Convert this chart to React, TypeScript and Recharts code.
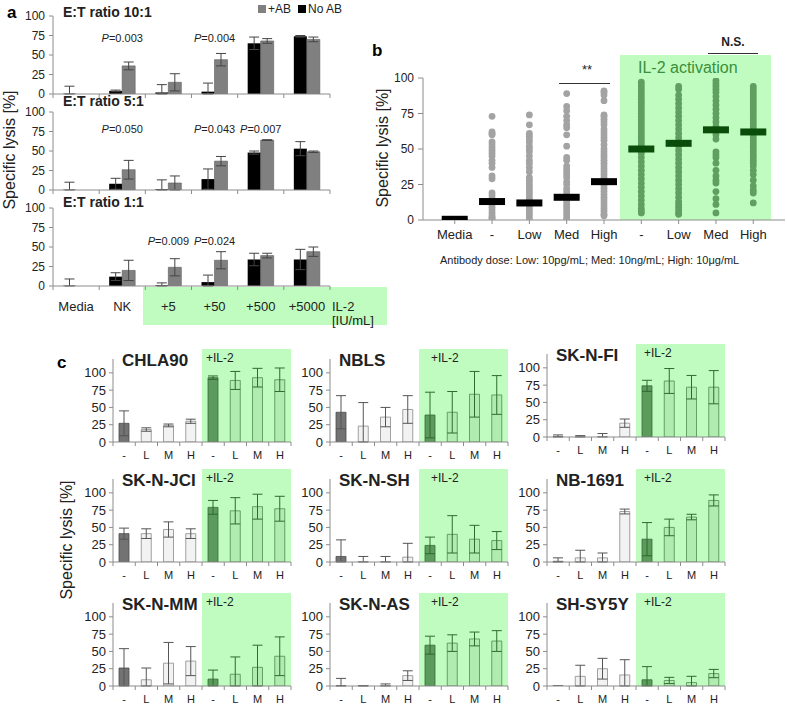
import React from 'react';
import { BarChart, Bar, XAxis, YAxis, ErrorBar, Cell, ScatterChart, Scatter } from 'recharts';

const FONT = '"Liberation Sans", Arial, Helvetica, sans-serif';
const AXIS = '#8c8c8c';
const TXT = '#222';
const GREEN_BG = '#c0fcc0';

// ---------- panel a ----------
const A_GROUPS = ['Media', 'NK', '+5', '+50', '+500', '+5000'];

const A10_NOAB = [0, 4, 2, 3, 65, 74];
const A10_NOAB_ERR = [10, 1, 10, 11, 8, 1];
const A10_AB = [0, 36, 15, 44, 68, 70];
const A10_AB_ERR = [0, 5, 11, 8, 3, 3];
const A10_P = ['', 'P=0.003', '', 'P=0.004', '', ''];

const A5_NOAB = [0, 8, 1, 14, 48, 53];
const A5_NOAB_ERR = [10, 7, 12, 13, 2, 9];
const A5_AB = [0, 26, 9, 37, 64, 49];
const A5_AB_ERR = [0, 12, 9, 6, 0.5, 1];
const A5_P = ['', 'P=0.050', '', 'P=0.043', 'P=0.007', ''];

const A1_NOAB = [0, 12, 1, 5, 34, 34];
const A1_NOAB_ERR = [9, 5, 3, 9, 8, 13];
const A1_AB = [0, 20, 24, 33, 39, 44];
const A1_AB_ERR = [0, 13, 11, 11, 3, 6];
const A1_P = ['', '', 'P=0.009', 'P=0.024', '', ''];

// ---------- panel b ----------
const B_CATS = ['Media', '-', 'Low', 'Med', 'High', '-', 'Low', 'Med', 'High'];
const B_MEANS = [0.5, 13, 12, 16, 27, 50, 54, 63.5, 62];
const B_DOTS_NK = [73, 62, 61, 60, 55, 53, 51, 49, 47, 45, 42, 40, 37, 31, 29, 19, 17, 15, 13, 11, 9, 7, 5, 3, 2, 1, 0];
const B_DOTS_LOW = [74, 67, 61, 59, 57, 55, 52, 50, 48, 45, 42, 40, 37, 34, 30, 28, 26, 24, 22, 20, 18, 16, 14, 12, 10, 8, 6, 4, 2, 0];
const B_DOTS_MED = [89, 80, 77, 73, 70, 67, 65, 60, 52, 44, 42, 38, 36, 34, 32, 30, 27, 25, 22, 20, 18, 15, 13, 11, 9, 7, 5, 3, 1, 0];
const B_DOTS_HIGH = [91, 90, 88, 84, 74, 73, 71, 69, 67, 64, 62, 60, 58, 56, 53, 50, 48, 46, 44, 42, 40, 38, 36, 34, 32, 30, 28, 26, 24, 22, 20, 18, 16, 14, 12, 10, 8, 6, 4, 3];
const B_DOTS_IL = [97, 95, 93, 91, 89, 87, 85, 83, 81, 79, 77, 75, 73, 71, 69, 67, 65, 63, 61, 59, 57, 55, 53, 51, 49, 47, 44, 41, 38, 35, 32, 29, 26, 23, 20, 17, 14, 11, 8, 6, 5];
const B_DOTS_IL_LOW = [94, 92, 88, 85, 82, 79, 76, 73, 70, 67, 64, 61, 58, 55, 52, 49, 46, 43, 40, 37, 34, 31, 28, 25, 22, 19, 16, 13, 11, 9, 7, 5, 4];
const B_DOTS_IL_MED = [98, 96, 94, 92, 90, 87, 84, 81, 78, 75, 72, 69, 66, 63, 60, 57, 48, 46, 44, 40, 35, 31, 28, 26, 20, 15, 11, 5];
const B_DOTS_IL_HIGH = [94, 92, 90, 88, 86, 84, 82, 80, 78, 76, 74, 72, 70, 68, 66, 64, 62, 60, 58, 56, 54, 52, 50, 48, 46, 44, 42, 40, 38, 35, 32, 28, 24, 21, 19, 12];

// ---------- panel c ----------
const C_LABELS = ['-', 'L', 'M', 'H', '-', 'L', 'M', 'H'];
const CHLA90_VAL = [27, 18, 24, 30, 93, 89, 93, 90];
const CHLA90_ERR = [18, 2.5, 2, 3, 2.5, 13, 13.5, 17];
const NBLS_VAL = [43, 23, 36, 47, 39, 43, 69, 68];
const NBLS_ERR = [24, 34, 14, 20, 33, 30, 33, 28];
const SKNFI_VAL = [0, 0, 0, 20, 74, 81, 72, 72];
const SKNFI_ERR = [3, 2, 5, 6, 8, 18, 17, 24];
const SKNJCI_VAL = [41, 41, 47, 41, 79, 74, 80, 77];
const SKNJCI_ERR = [8, 7, 11, 7, 10, 19, 18, 18];
const SKNSH_VAL = [8, 0, 0, 7, 24, 40, 33, 31];
const SKNSH_ERR = [24, 8, 8, 20, 12, 27, 20, 13];
const NB1691_VAL = [1, 6, 6, 73, 33, 50, 65, 89];
const NB1691_ERR = [5, 11, 7, 3.5, 24, 12, 4, 8];
const SKNMM_VAL = [26, 9, 33, 36, 10, 17, 27, 43];
const SKNMM_ERR = [28, 17, 30, 21, 13, 25, 32, 28];
const SKNAS_VAL = [0, 0, 0, 15, 59, 62, 68, 65];
const SKNAS_ERR = [11, 0.5, 3, 7, 13, 12, 10, 15];
const SHSY5Y_VAL = [0, 14, 25, 16, 9, 8, 5, 18];
const SHSY5Y_ERR = [0, 16, 15, 22, 19, 4.5, 9, 6];

const C_LINES = [
  { name: 'CHLA90', val: CHLA90_VAL, err: CHLA90_ERR },
  { name: 'NBLS', val: NBLS_VAL, err: NBLS_ERR },
  { name: 'SK-N-FI', val: SKNFI_VAL, err: SKNFI_ERR },
  { name: 'SK-N-JCI', val: SKNJCI_VAL, err: SKNJCI_ERR },
  { name: 'SK-N-SH', val: SKNSH_VAL, err: SKNSH_ERR },
  { name: 'NB-1691', val: NB1691_VAL, err: NB1691_ERR },
  { name: 'SK-N-MM', val: SKNMM_VAL, err: SKNMM_ERR },
  { name: 'SK-N-AS', val: SKNAS_VAL, err: SKNAS_ERR },
  { name: 'SH-SY5Y', val: SHSY5Y_VAL, err: SHSY5Y_ERR },
];

// layout of the 3x3 grid
const C_X = [113, 330, 547];
const C_ZERO = [[442, 442, 437], [562, 562, 562], [686, 686, 686]];
const C_IL_DX = [4, 12, 8];
const C_W = 178;

// error bar that stops at the axis (like the clipped Excel bars)
const errPair = (v: number | null, e: number | null) => (v == null || !e ? null : [Math.min(e, v), e]);
// zero-height bars still need a rectangle so their error bar is drawn
const tinyForZero = (v: any) => (v === 0 ? 0.3 : 0);

const Txt = ({ x, y, size = 12, bold = false, color = TXT, anchor = 'start', children }: any) => (
  <div
    style={{
      position: 'absolute', left: x, top: y - size / 2, fontSize: size, lineHeight: `${size}px`,
      fontWeight: bold ? 700 : 400, color, whiteSpace: 'nowrap',
      transform: anchor === 'middle' ? 'translateX(-50%)' : anchor === 'end' ? 'translateX(-100%)' : undefined,
    }}
  >
    {children}
  </div>
);

const VLabel = ({ x, y, size = 16 }: any) => (
  <div
    style={{
      position: 'absolute', left: x, top: y, fontSize: size, color: TXT, whiteSpace: 'nowrap',
      transform: 'translate(-50%, -50%) rotate(-90deg)',
    }}
  >
    Specific lysis [%]
  </div>
);

// tick marks on category boundaries, label in the middle of the band
const BandTick = (props: any) => {
  const { x = 0, y = 0, index = 0, band, count, labels, labelDy = 16, fontSize = 12 } = props;
  return (
    <g>
      <line x1={x - band / 2} x2={x - band / 2} y1={y} y2={y + 4} stroke={AXIS} />
      {index === count - 1 ? <line x1={x + band / 2} x2={x + band / 2} y1={y} y2={y + 4} stroke={AXIS} /> : null}
      {labels ? (
        <text x={x} y={y + labelDy} textAnchor="middle" fontSize={fontSize} fill={TXT} fontFamily={FONT}>
          {labels[index]}
        </text>
      ) : null}
    </g>
  );
};

const PText = ({ text }: { text: string }) => (
  <>
    <i>P</i>
    {text.slice(1)}
  </>
);

// ---------- panel a chart ----------
const A_LEFT = 53;
const A_W = 277;
const A_H = 78;

const RatioChart = ({ zero, noAb, noAbErr, ab, abErr, title, titleY, pvals, pY, labels }: any) => {
  const data = A_GROUPS.map((g, i) => ({
    group: g,
    noAb: noAb[i],
    noAbErr: errPair(noAb[i], noAbErr[i]),
    ab: ab[i],
    abErr: errPair(ab[i], abErr[i]),
  }));
  const yw = 30;
  const mt = 9;
  const xh = labels ? 34 : 6;
  const band = A_W / A_GROUPS.length;
  return (
    <>
      <Txt x={63} y={titleY} size={14} bold>{title}</Txt>
      {pvals.map((p: string, i: number) =>
        p ? (
          <Txt key={i} x={A_LEFT + (i + 0.5) * band} y={pY} size={11} anchor="middle"><PText text={p} /></Txt>
        ) : null,
      )}
      <div style={{ position: 'absolute', left: A_LEFT - yw, top: zero - A_H - mt }}>
        <BarChart
          width={yw + A_W + 2}
          height={mt + A_H + xh}
          data={data}
          margin={{ top: mt, right: 2, bottom: 0, left: 0 }}
          barGap={0}
        >
          <XAxis
            dataKey="group"
            interval={0}
            tickSize={0}
            tickMargin={0}
            tickLine={false}
            height={xh}
            axisLine={{ stroke: AXIS }}
            tick={<BandTick band={band} count={A_GROUPS.length} labels={labels} labelDy={25} fontSize={13} />}
          />
          <YAxis
            domain={[0, 100]}
            ticks={[0, 25, 50, 75, 100]}
            interval={0}
            allowDataOverflow
            width={yw}
            tickSize={4}
            tickMargin={4}
            axisLine={{ stroke: AXIS }}
            tickLine={{ stroke: AXIS }}
            tick={{ fontSize: 12, fill: TXT, fontFamily: FONT }}
          />
          <Bar dataKey="noAb" fill="#000" barSize={13} minPointSize={tinyForZero} isAnimationActive={false}>
            <ErrorBar dataKey="noAbErr" width={5} stroke="#444" strokeWidth={1} />
          </Bar>
          <Bar dataKey="ab" fill="#808080" stroke="#5a5a5a" strokeWidth={0.6} barSize={13} isAnimationActive={false}>
            <ErrorBar dataKey="abErr" width={5} stroke="#444" strokeWidth={1} />
          </Bar>
        </BarChart>
      </div>
    </>
  );
};

// ---------- panel c chart ----------
const CellLineChart = ({ name, val, err, x0, zero, ilDx }: any) => {
  const data = C_LABELS.map((l, i) => ({
    slot: 's' + i,
    base: i < 4 ? val[i] : null,
    baseErr: i < 4 ? errPair(val[i], err[i]) : null,
    il: i >= 4 ? val[i] : null,
    ilErr: i >= 4 ? errPair(val[i], err[i]) : null,
  }));
  const plotH = 83;
  const yw = 32;
  const mt = 4;
  const xh = 24;
  const band = C_W / C_LABELS.length;
  return (
    <>
      <div style={{ position: 'absolute', left: x0 + C_W / 2, top: zero - 93, width: C_W / 2, height: 93, background: GREEN_BG }} />
      <Txt x={x0 + 9} y={zero - 82} size={17} bold>{name}</Txt>
      <Txt x={x0 + C_W / 2 + ilDx} y={zero - 84} size={12}>+IL-2</Txt>
      <div style={{ position: 'absolute', left: x0 - yw, top: zero - plotH - mt }}>
        <BarChart
          width={yw + C_W + 2}
          height={mt + plotH + xh}
          data={data}
          margin={{ top: mt, right: 2, bottom: 0, left: 0 }}
          barGap={0}
        >
          <XAxis
            dataKey="slot"
            interval={0}
            tickSize={0}
            tickMargin={0}
            tickLine={false}
            height={xh}
            axisLine={{ stroke: AXIS }}
            tick={<BandTick band={band} count={C_LABELS.length} labels={C_LABELS} labelDy={17} fontSize={11} />}
          />
          <YAxis
            domain={[0, 120]}
            ticks={[0, 25, 50, 75, 100]}
            interval={0}
            allowDataOverflow
            width={yw}
            tickSize={4}
            tickMargin={3}
            axisLine={{ stroke: AXIS }}
            tickLine={{ stroke: AXIS }}
            tick={{ fontSize: 13, fill: TXT, fontFamily: FONT }}
          />
          <Bar dataKey="base" stackId="s" barSize={10} minPointSize={tinyForZero} isAnimationActive={false}>
            {data.map((d, i) => (
              <Cell key={i} fill={i === 0 ? '#737373' : '#f2f2f2'} stroke={i === 0 ? '#4d4d4d' : '#8a8a8a'} strokeWidth={0.8} />
            ))}
            <ErrorBar dataKey="baseErr" width={5} stroke="#555" strokeWidth={1} />
          </Bar>
          <Bar dataKey="il" stackId="s" barSize={10} isAnimationActive={false}>
            {data.map((d, i) => (
              <Cell key={i} fill={i === 4 ? '#5b9b5b' : '#b0ecb0'} stroke={i === 4 ? '#3b6b3b' : '#4f8a4f'} strokeWidth={0.8} />
            ))}
            <ErrorBar dataKey="ilErr" width={5} stroke="#2f6a2f" strokeWidth={1} />
          </Bar>
        </BarChart>
      </div>
    </>
  );
};

// ---------- panel b chart ----------
const B_GRAY_COLS = [B_DOTS_NK, B_DOTS_LOW, B_DOTS_MED, B_DOTS_HIGH];
const B_GREEN_COLS = [B_DOTS_IL, B_DOTS_IL_LOW, B_DOTS_IL_MED, B_DOTS_IL_HIGH];

const DotPlot = () => {
  const grayDots = B_GRAY_COLS.flatMap((col, k) => col.map((v) => ({ x: k + 1, y: v })));
  const greenDots = B_GREEN_COLS.flatMap((col, k) => col.map((v) => ({ x: k + 5, y: v })));
  const meansNo = B_MEANS.slice(0, 5).map((v, i) => ({ x: i, y: v }));
  const meansIl = B_MEANS.slice(5).map((v, i) => ({ x: i + 5, y: v }));
  const dot = (color: string) => (p: any) => <circle cx={p.cx} cy={p.cy} r={3.4} fill={color} />;
  const mean = (color: string) => (p: any) => <rect x={p.cx - 13} y={p.cy - 3.5} width={26} height={7} fill={color} />;
  return (
    <div style={{ position: 'absolute', left: 383, top: 68 }}>
      <ScatterChart width={404} height={182} margin={{ top: 10, right: 2, bottom: 0, left: 0 }}>
        <XAxis
          type="number"
          dataKey="x"
          domain={[-0.85, 8.85]}
          ticks={B_CATS.map((c, i) => i)}
          interval={0}
          allowDataOverflow
          tickFormatter={(v: number) => B_CATS[v]}
          tickSize={4}
          tickMargin={6}
          height={30}
          axisLine={{ stroke: AXIS }}
          tickLine={{ stroke: AXIS }}
          tick={{ fontSize: 13, fill: TXT, fontFamily: FONT }}
        />
        <YAxis
          type="number"
          dataKey="y"
          domain={[0, 100]}
          ticks={[0, 25, 50, 75, 100]}
          interval={0}
          allowDataOverflow
          width={40}
          tickSize={5}
          tickMargin={4}
          axisLine={{ stroke: AXIS }}
          tickLine={{ stroke: AXIS }}
          tick={{ fontSize: 12, fill: TXT, fontFamily: FONT }}
        />
        <Scatter data={grayDots} shape={dot('#a3a3a3')} isAnimationActive={false} />
        <Scatter data={greenDots} shape={dot('#5f9f5f')} isAnimationActive={false} />
        <Scatter data={meansNo} shape={mean('#000')} isAnimationActive={false} />
        <Scatter data={meansIl} shape={mean('#0a4d0a')} isAnimationActive={false} />
      </ScatterChart>
    </div>
  );
};

const App = () => (
  <div
    style={{
      position: 'absolute', left: 0, top: 0, width: 787, height: 705, overflow: 'hidden',
      background: '#fff', fontFamily: FONT,
    }}
  >
    {/* panel a */}
    <Txt x={7} y={12} size={17} bold color="#000">a</Txt>
    <div style={{ position: 'absolute', left: 258, top: 5, width: 8, height: 8, background: '#808080' }} />
    <Txt x={268} y={9} size={12}>+AB</Txt>
    <div style={{ position: 'absolute', left: 298, top: 5, width: 8, height: 8, background: '#000' }} />
    <Txt x={308} y={9} size={12}>No AB</Txt>
    <div style={{ position: 'absolute', left: 143, top: 287, width: 244, height: 38, background: GREEN_BG }} />
    <RatioChart zero={94} noAb={A10_NOAB} noAbErr={A10_NOAB_ERR} ab={A10_AB} abErr={A10_AB_ERR}
      title="E:T ratio 10:1" titleY={12} pvals={A10_P} pY={38} />
    <RatioChart zero={190} noAb={A5_NOAB} noAbErr={A5_NOAB_ERR} ab={A5_AB} abErr={A5_AB_ERR}
      title="E:T ratio 5:1" titleY={101} pvals={A5_P} pY={129} />
    <RatioChart zero={286} noAb={A1_NOAB} noAbErr={A1_NOAB_ERR} ab={A1_AB} abErr={A1_AB_ERR}
      title="E:T ratio 1:1" titleY={202} pvals={A1_P} pY={241} labels={A_GROUPS} />
    <Txt x={332} y={306} size={13}>IL-2</Txt>
    <Txt x={332} y={320} size={13}>[IU/mL]</Txt>
    <VLabel x={10} y={150} />

    {/* panel b */}
    <Txt x={372} y={50} size={17} bold color="#000">b</Txt>
    <div style={{ position: 'absolute', left: 620, top: 55, width: 151, height: 165, background: GREEN_BG }} />
    <Txt x={638} y={68} size={16} color="#3a8f3a">IL-2 activation</Txt>
    <Txt x={587} y={69} size={13} anchor="middle">**</Txt>
    <div style={{ position: 'absolute', left: 559, top: 83, width: 51, height: 1, background: '#333' }} />
    <Txt x={733} y={42} size={12} bold anchor="middle">N.S.</Txt>
    <div style={{ position: 'absolute', left: 708, top: 53, width: 50, height: 1, background: '#333' }} />
    <DotPlot />
    <VLabel x={383} y={148} />
    <Txt x={440} y={260} size={11}>Antibody dose: Low: 10pg/mL; Med: 10ng/mL; High: 10μg/mL</Txt>

    {/* panel c */}
    <Txt x={57} y={362} size={17} bold color="#000">c</Txt>
    <VLabel x={67} y={540} />
    {C_LINES.map((c, i) => {
      const row = Math.floor(i / 3);
      const col = i % 3;
      return (
        <CellLineChart key={c.name} name={c.name} val={c.val} err={c.err} x0={C_X[col]} zero={C_ZERO[row][col]} ilDx={C_IL_DX[col]} />
      );
    })}
  </div>
);

export default App;
